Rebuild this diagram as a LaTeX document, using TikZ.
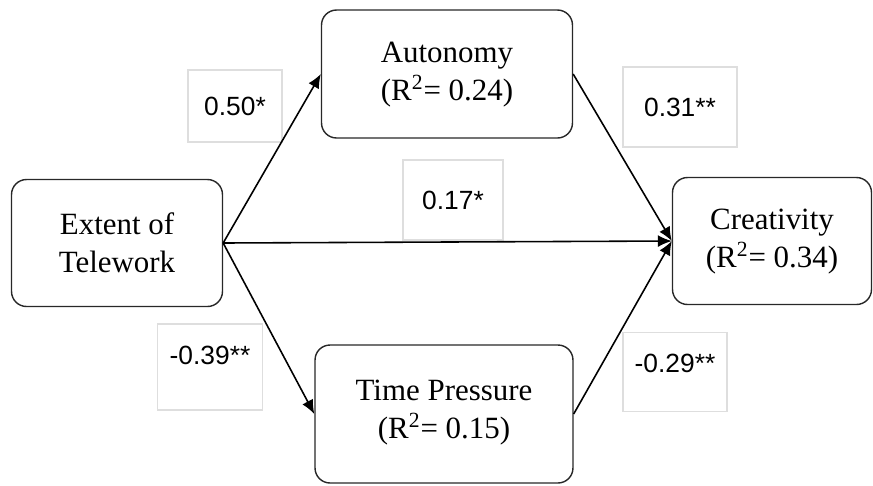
\documentclass[tikz,border=0pt]{standalone}
\usepackage{fontspec}
\setmainfont{Liberation Serif}
\setsansfont{Liberation Sans}
\usetikzlibrary{arrows.meta}
\definecolor{BoxLine}{RGB}{40, 40, 40}
\definecolor{LabelLine}{RGB}{222, 222, 222}

\begin{document}
\begin{tikzpicture}[x=0.02cm, y=-0.02cm,
    box/.style={draw=BoxLine, line width=0.8pt, fill=white, rounded corners=0.3cm, align=center, font=\fontsize{17.6}{21.8}\selectfont},
    coef/.style={draw=LabelLine, line width=0.6pt, fill=white, align=center, font=\sffamily\fontsize{15}{17}\selectfont},
    arr/.style={-{Latex[length=2.8mm,width=2.4mm]}, line width=0.9pt, black}
]
    \useasboundingbox (0,0) rectangle (873,485);

    % path coefficients
    \node[coef, minimum width=1.88cm, minimum height=1.44cm] (c50) at (235,106) {0.50*};
    \node[coef, minimum width=2.28cm, minimum height=1.60cm] (c31) at (680,107) {0.31**};
    \node[coef, minimum width=2.00cm, minimum height=1.60cm] (c17) at (453,200) {0.17*};
    \node[coef, minimum width=2.10cm, minimum height=1.72cm, text depth=0.45cm] (c39) at (210,367) {-0.39**};
    \node[coef, minimum width=2.08cm, minimum height=1.58cm, text depth=0.35cm] (c29) at (675,372) {-0.29**};

    % variables
    \node[box, minimum width=4.22cm, minimum height=2.54cm] (telework) at (117,243) {Extent of\\Telework};
    \node[box, minimum width=5.02cm, minimum height=2.56cm, text depth=0.12cm] (autonomy) at (447,74) {Autonomy\\(R\textsuperscript{2}= 0.24)};
    \node[box, minimum width=5.16cm, minimum height=2.76cm, text depth=0.18cm] (pressure) at (444,414) {Time Pressure\\(R\textsuperscript{2}= 0.15)};
    \node[box, minimum width=3.98cm, minimum height=2.54cm, text depth=0.12cm] (creativity) at (772,241) {Creativity\\(R\textsuperscript{2}= 0.34)};

    \draw[arr] (telework.east) -- (autonomy.west);
    \draw[arr] (telework.east) -- (pressure.west);
    \draw[arr] (telework.east) -- (creativity.west);
    \draw[arr] (autonomy.east) -- (creativity.west);
    \draw[arr] (pressure.east) -- (creativity.west);
\end{tikzpicture}
\end{document}
